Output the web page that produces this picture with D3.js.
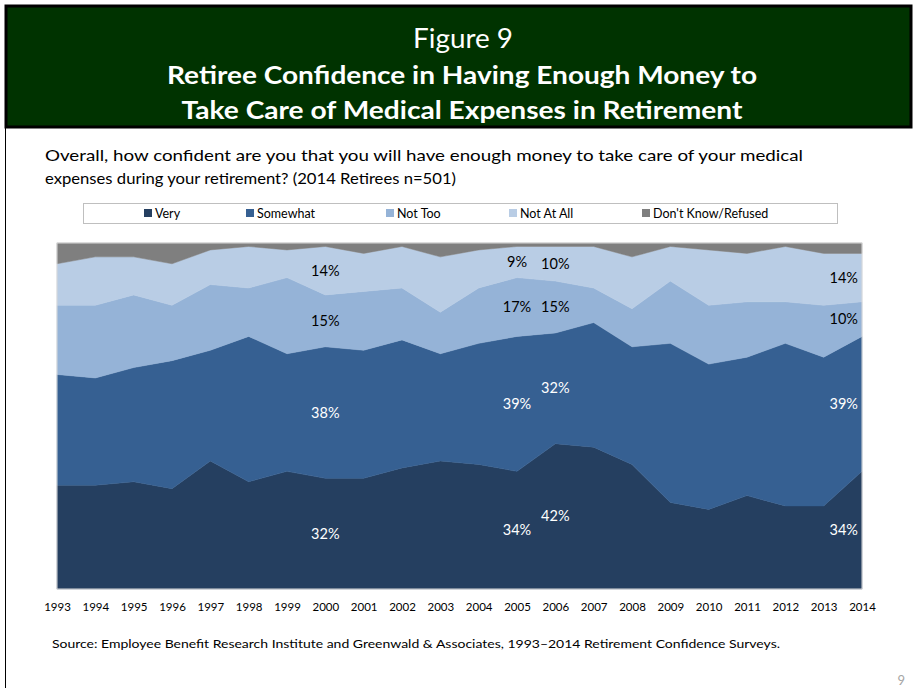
<!DOCTYPE html>
<html lang="en">
  <head>
    <meta charset="utf-8">
    <title>Figure 9</title>
    <script src="https://d3js.org/d3.v7.min.js"></script>
    <style type="text/css">
      html, body {
        margin: 0; padding: 0;
        background: #fff;
        font-family: Lato, "Open Sans", sans-serif;
      }
    </style>
  </head>

  <body>
    <svg width="914" height="688"></svg>

    <script type="text/javascript">

      // data (percent of retirees)
      var years = [1993, 1994, 1995, 1996, 1997, 1998, 1999, 2000, 2001, 2002, 2003,
                   2004, 2005, 2006, 2007, 2008, 2009, 2010, 2011, 2012, 2013, 2014];
      var series = ["Very", "Somewhat", "Not Too", "Not At All", "Don't Know/Refused"];
      var very     = [30, 30, 31, 29, 37, 31, 34, 32, 32, 35, 37, 36, 34, 42, 41, 36, 25, 23, 27, 24, 24, 34];
      var somewhat = [32, 31, 33, 37, 32, 42, 34, 38, 37, 37, 31, 35, 39, 32, 36, 34, 46, 42, 40, 47, 43, 39];
      var notToo   = [20, 21, 21, 16, 19, 14, 22, 15, 17, 15, 12, 16, 17, 15, 10, 11, 18, 17, 16, 12, 15, 10];
      var notAtAll = [12, 14, 11, 12, 10, 12,  8, 14, 11, 12, 16, 11,  9, 10, 12, 15, 10, 16, 14, 16, 15, 14];
      var dontKnow = [ 6,  4,  4,  6,  2,  1,  2,  1,  3,  1,  4,  2,  1,  1,  1,  4,  1,  2,  3,  1,  3,  3];
      // the years that carry value labels
      var labelYears = [2000, 2005, 2006, 2014];

      var colors = ["#253F60", "#366092", "#95B3D7", "#B9CDE5", "#7F7F7F"];

      var svg = d3.select("svg");

      // header band
      svg.append("rect")
         .attr("x", 6).attr("y", 6)
         .attr("width", 905).attr("height", 121)
         .style("fill", "#003300")
         .style("stroke", "#000")
         .style("stroke-width", 3);

      // left page rule
      svg.append("line")
         .attr("x1", 5.5).attr("x2", 5.5)
         .attr("y1", 127).attr("y2", 688)
         .style("stroke", "#000")
         .style("stroke-width", 1);

      svg.append("text")
         .attr("x", 463).attr("y", 48)
         .attr("text-anchor", "middle")
         .style("fill", "#fff")
         .style("font-size", "26px")
         .attr("textLength", 100)
         .attr("lengthAdjust", "spacingAndGlyphs")
         .text("Figure 9");

      svg.append("text")
         .attr("x", 462).attr("y", 84)
         .attr("text-anchor", "middle")
         .style("fill", "#fff")
         .style("font-size", "25px")
         .style("font-weight", "bold")
         .attr("textLength", 590)
         .attr("lengthAdjust", "spacingAndGlyphs")
         .text("Retiree Confidence in Having Enough Money to");

      svg.append("text")
         .attr("x", 462).attr("y", 119)
         .attr("text-anchor", "middle")
         .style("fill", "#fff")
         .style("font-size", "25px")
         .style("font-weight", "bold")
         .attr("textLength", 561)
         .attr("lengthAdjust", "spacingAndGlyphs")
         .text("Take Care of Medical Expenses in Retirement");

      // question
      svg.append("text")
         .attr("x", 45).attr("y", 161)
         .style("fill", "#000")
         .style("font-size", "16px")
         .attr("textLength", 758)
         .attr("lengthAdjust", "spacingAndGlyphs")
         .text("Overall, how confident are you that you will have enough money to take care of your medical");
      svg.append("text")
         .attr("x", 45).attr("y", 184)
         .style("fill", "#000")
         .style("font-size", "16px")
         .attr("textLength", 411)
         .attr("lengthAdjust", "spacingAndGlyphs")
         .text("expenses during your retirement? (2014 Retirees n=501)");

      // chart
      var margin = {left: 57, right: 52, top: 243, bottom: 99};
      var w = 914 - margin.left - margin.right;
      var h = 688 - margin.top - margin.bottom;

      var table = years.map(function(y, i) {
        return {year: y, "Very": very[i], "Somewhat": somewhat[i], "Not Too": notToo[i],
                "Not At All": notAtAll[i], "Don't Know/Refused": dontKnow[i]};
      });

      var stack = d3.stack()
                    .keys(series)
                    .offset(d3.stackOffsetExpand);
      var layers = stack(table);

      var x = d3.scaleLinear()
                .domain(d3.extent(years))
                .range([0, w]);
      var y = d3.scaleLinear()
                .domain([0, 1])
                .range([h, 0]);
      var color = d3.scaleOrdinal().domain(series).range(colors);

      var area = d3.area()
                   .x(function(d) { return x(d.data.year); })
                   .y0(function(d) { return y(d[0]); })
                   .y1(function(d) { return y(d[1]); });

      var g = svg.append("g")
                 .attr("transform", "translate(" + margin.left + "," + margin.top + ")");

      g.selectAll("path.layer")
       .data(layers)
       .enter()
       .append("path")
       .attr("class", "layer")
       .attr("d", area)
       .style("fill", function(d) { return color(d.key); })
       .style("stroke", function(d) { return color(d.key); })
       .style("stroke-width", 0.5);

      // light frame round the plot
      g.append("rect")
       .attr("x", 0).attr("y", 0)
       .attr("width", w).attr("height", h)
       .style("fill", "none")
       .style("stroke", "#D9D9D9")
       .style("stroke-width", 1);

      // x axis, labels only
      var xAxis = d3.axisBottom(x)
                    .tickValues(years)
                    .tickFormat(d3.format("d"))
                    .tickSize(0)
                    .tickPadding(14);
      var ax = g.append("g")
                .attr("transform", "translate(0," + h + ")")
                .call(xAxis);
      ax.select(".domain").remove();
      ax.selectAll("text")
        .style("font-family", "Lato, sans-serif")
        .style("font-size", "11.5px")
        .style("fill", "#000");

      // value labels (first four series only)
      var last = years[years.length - 1];
      layers.slice(0, 4).forEach(function(layer, k) {
        g.selectAll("text.lab" + k)
         .data(layer.filter(function(d) { return labelYears.indexOf(d.data.year) >= 0; }))
         .enter()
         .append("text")
         .attr("class", "lab" + k)
         .attr("x", function(d) { return d.data.year == last ? x(d.data.year) - 4 : x(d.data.year); })
         .attr("y", function(d) { return y((d[0] + d[1]) / 2); })
         .attr("dy", "0.35em")
         .attr("text-anchor", function(d) { return d.data.year == last ? "end" : "middle"; })
         .style("font-size", "14.5px")
         .style("fill", k < 2 ? "#fff" : "#000")
         .text(function(d) { return d.data[layer.key] + "%"; });
      });

      // legend
      var legend = svg.append("g");
      legend.append("rect")
            .attr("x", 83.5).attr("y", 203.5)
            .attr("width", 754).attr("height", 20)
            .style("fill", "#fff")
            .style("stroke", "#BFBFBF");
      var legendX = [144, 246, 386, 509, 642];
      var item = legend.selectAll("g.item")
                       .data(series)
                       .enter()
                       .append("g")
                       .attr("class", "item")
                       .attr("transform", function(d, i) { return "translate(" + legendX[i] + ",209)"; });
      item.append("rect")
          .attr("width", 8).attr("height", 8)
          .style("fill", function(d) { return color(d); });
      item.append("text")
          .attr("x", 11).attr("y", 8.5)
          .style("font-size", "12.5px")
          .style("fill", "#000")
          .text(function(d) { return d; });

      // source
      svg.append("text")
         .attr("x", 52).attr("y", 648)
         .style("font-size", "12px")
         .style("fill", "#000")
         .attr("textLength", 728)
         .attr("lengthAdjust", "spacingAndGlyphs")
         .text("Source:  Employee Benefit Research Institute and Greenwald & Associates, 1993\u20132014 Retirement Confidence Surveys.");

      // page number
      svg.append("text")
         .attr("x", 905).attr("y", 685)
         .attr("text-anchor", "end")
         .style("font-size", "13px")
         .style("fill", "#A6A6A6")
         .text("9");

    </script>
  </body>
</html>
